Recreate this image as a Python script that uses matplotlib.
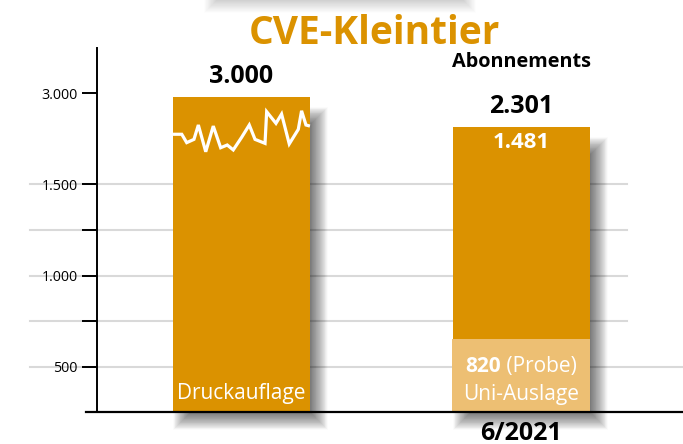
import matplotlib
matplotlib.use("Agg")
import matplotlib.pyplot as plt
from matplotlib.patches import Rectangle

plt.rcParams['font.family'] = ['Open Sans', 'DejaVu Sans']

# ---- data ----
title = "CVE-Kleintier"
categories = ["Druckauflage", "Abonnements"]
x_label = "6/2021"
value_labels = ["3.000", "2.301"]          # printed totals
sub_value_label = "1.481"                   # printed inside right bar
probe_value_label = "820"                   # printed in light segment
probe_text = "(Probe)"
probe_caption = "Uni-Auslage"
# displayed bar heights (axis units, chart is not drawn to scale)
bar_heights = [1731, 1566]
probe_height = 401
# y ticks (axis units) and their printed labels
ytick_pos = [250, 500, 750, 1000, 1250, 1750]
ytick_labels = ["500", "", "1.000", "", "1.500", "3.000"]
grid_pos = [250, 500, 750, 1000, 1250]
# decorative white line on the left bar (fraction of bar width, axis units)
zig_x = [0.00, 0.064, 0.10, 0.153, 0.185, 0.239, 0.294, 0.348, 0.396, 0.44,
         0.501, 0.557, 0.599, 0.672, 0.684, 0.752, 0.793, 0.849, 0.915,
         0.939, 0.971, 1.0]
zig_y = [1526, 1526, 1480, 1498, 1577, 1430, 1571, 1452, 1467, 1440, 1509,
         1577, 1498, 1476, 1650, 1586, 1637, 1473, 1553, 1655, 1577, 1571]

ORANGE = "#DB9200"
LIGHT = "#EDBF73"

W, H = 683, 444
fig = plt.figure(figsize=(W / 100, H / 100), dpi=100)
ax = fig.add_axes([97 / W, (H - 412) / H, (W - 97) / W, 364 / H])
ax.set_xlim(-0.516, 1.577)
ax.set_ylim(0, 2000)

xs = [0, 1]
bw = 0.489
px_x = 1 / 280.0
px_y = 250 / 45.5

# gridlines
for i, g in enumerate(grid_pos):
    x_end = 1.577 if i == 0 else 1.377
    ax.plot([-0.755, x_end], [g, g], color="#D9D9D9", lw=1.5, zorder=0.5,
            clip_on=False)


def blurred_rect(target, x0, y0, w, h, r, alpha, n, transform, sx, sy, z):
    a = 1 - (1 - alpha) ** (1.0 / n)
    for k in range(n):
        e = -r + 2 * r * (k + 0.5) / n
        target.add_artist(Rectangle((x0 - e * sx, y0 - e * sy),
                                    w + 2 * e * sx, h + 2 * e * sy,
                                    facecolor="black", alpha=a, lw=0,
                                    zorder=z, clip_on=False,
                                    transform=transform))


# bar shadows
for x, h in zip(xs, bar_heights):
    off_x, off_y = 9, 9
    blurred_rect(ax, x - bw / 2 + off_x * px_x, -off_y * px_y, bw,
                 h - 10 * px_y, 9, 0.5, 40, ax.transData, px_x, px_y, 1)

# page shadow at the top
blurred_rect(fig, 215 / W, 1 - 2 / H, 250 / W, 40 / H, 11, 0.3, 40,
             fig.transFigure, 1 / W, 1 / H, 0)

# bars
ax.bar(xs, bar_heights, width=bw, color=ORANGE, zorder=2)
ax.bar([xs[1]], [probe_height], width=bw + 1 * px_x, color=LIGHT, zorder=3)

# zigzag line
zx = [xs[0] - bw / 2 + f * bw for f in zig_x]
ax.plot(zx, zig_y, color="white", lw=2.3, zorder=4, solid_joinstyle="miter",
        solid_capstyle="butt")

# axes styling
for s in ["top", "right", "bottom"]:
    ax.spines[s].set_visible(False)
ax.spines["left"].set_linewidth(1.4)
ax.set_xticks([])
ax.set_yticks(ytick_pos)
ax.set_yticklabels(ytick_labels, fontsize=10.3)
ax.tick_params(axis="y", length=11, width=1.4, pad=3, direction="out")
ax.plot([-0.555, 1.577], [0, 0], color="black", lw=1.6, zorder=5,
        clip_on=False)

# labels
for x, h, t in zip(xs, bar_heights, value_labels):
    ax.annotate(t, (x, h), xytext=(0, 20), textcoords="offset pixels",
                ha="center", va="center", fontsize=18, fontweight="bold")
ax.annotate(categories[1], (xs[1], bar_heights[1]), xytext=(0, 65),
            textcoords="offset pixels", ha="center", va="center",
            fontsize=14.3, fontweight="bold")
ax.annotate(sub_value_label, (xs[1], bar_heights[1]), xytext=(0, -16),
            textcoords="offset pixels", ha="center", va="center",
            fontsize=16, fontweight="bold", color="white")
ax.annotate(categories[0], (xs[0], 0), xytext=(0, 19),
            textcoords="offset pixels", ha="center", va="center",
            fontsize=15, color="white", zorder=6)
ax.annotate(probe_caption, (xs[1], 0), xytext=(0, 18),
            textcoords="offset pixels", ha="center", va="center",
            fontsize=15, color="white", zorder=6)

# "820 (Probe)" – bold number + regular text, centred as a pair
t1 = ax.annotate(probe_value_label, (xs[1], 0), xytext=(0, 46),
                 textcoords="offset pixels", ha="left", va="center",
                 fontsize=15, fontweight="bold", color="white", zorder=6)
t2 = ax.annotate(" " + probe_text, (xs[1], 0), xytext=(0, 46),
                 textcoords="offset pixels", ha="left", va="center",
                 fontsize=15, color="white", zorder=6)
r = fig.canvas.get_renderer()
w1 = t1.get_window_extent(r).width
w2 = t2.get_window_extent(r).width
tot = w1 + w2
t1.set_position((-tot / 2, 46))
t2.set_position((-tot / 2 + w1, 46))

ax.annotate(x_label, (xs[1], 0), xytext=(0, -21),
            textcoords="offset pixels", ha="center", va="center",
            fontsize=18, fontweight="bold", annotation_clip=False)

fig.text(374 / W, 1 - 33 / H, title, ha="center", va="center", fontsize=28,
         fontweight="bold", color=ORANGE)

fig.savefig("out.png", dpi=100)
